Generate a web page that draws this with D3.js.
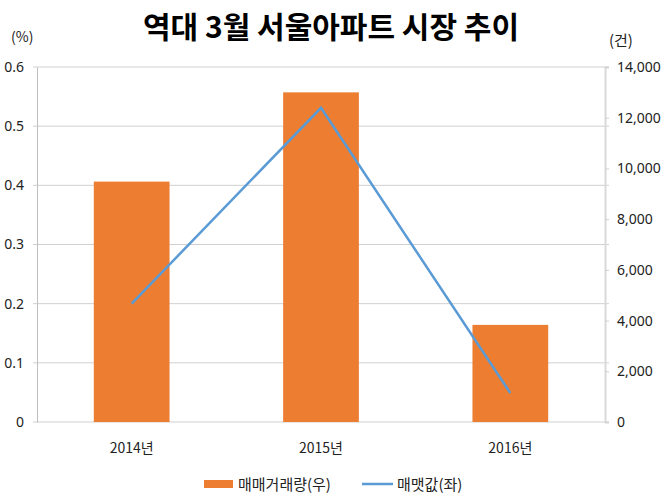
<!DOCTYPE html>
<html>
<head>
<meta charset="utf-8">
<script src="https://cdn.jsdelivr.net/npm/d3@7"></script>
<style>
  body { margin: 0; background: #fff; }
  text { font-family: "Noto Sans CJK KR", "Noto Sans", sans-serif; }
</style>
</head>
<body>
<div id="chart"></div>
<script>
var years = ["2014년", "2015년", "2016년"];
var volume = [9480, 13000, 3830];     // 매매거래량(우), 건
var priceChange = [0.2, 0.531, 0.049]; // 매맷값(좌), %
var leftTicks = [0, 0.1, 0.2, 0.3, 0.4, 0.5, 0.6];
var rightTicks = [0, 2000, 4000, 6000, 8000, 10000, 12000, 14000];

var svgWidth = 670;
var svgHeight = 504;

var margin = { top: 67, right: 65, bottom: 82, left: 37 };
var width = svgWidth - margin.left - margin.right;
var height = svgHeight - margin.top - margin.bottom;

var svg = d3.select("#chart")
  .append("svg")
  .attr("width", svgWidth)
  .attr("height", svgHeight);

var chartGroup = svg.append("g")
  .attr("transform", `translate(${margin.left}, ${margin.top})`);

var xScale = d3.scaleBand().domain(years).range([0, width]);
var yLeft = d3.scaleLinear().domain([0, 0.6]).range([height, 0]);
var yRight = d3.scaleLinear().domain([0, 14000]).range([height, 0]);

// gridlines
chartGroup.selectAll(".grid")
  .data(leftTicks)
  .enter()
  .append("line")
  .attr("x1", -4)
  .attr("x2", width + 4)
  .attr("y1", d => yLeft(d))
  .attr("y2", d => yLeft(d))
  .attr("stroke", "#d0d0d0")
  .attr("stroke-width", 1);

// bars
var barW = xScale.bandwidth() * 0.4;
chartGroup.selectAll("rect.bar")
  .data(volume)
  .enter()
  .append("rect")
  .attr("class", "bar")
  .attr("x", (d, i) => xScale(years[i]) + xScale.bandwidth() / 2 - barW / 2)
  .attr("y", d => yRight(d))
  .attr("width", barW)
  .attr("height", d => height - yRight(d))
  .attr("fill", "#ed7d31");

// axes
var leftAxis = d3.axisLeft(yLeft).tickValues(leftTicks).tickSize(0).tickPadding(13)
  .tickFormat(d => d === 0 ? "0" : d3.format(".1f")(d));
var rightAxis = d3.axisRight(yRight).tickValues(rightTicks).tickSize(4).tickPadding(8)
  .tickFormat(d3.format(","));

var gl = chartGroup.append("g").call(leftAxis);
gl.select(".domain").attr("stroke", "#bfbfbf");
var gr = chartGroup.append("g").attr("transform", `translate(${width}, 0)`).call(rightAxis);
gr.select(".domain").attr("stroke", "#d9d9d9").attr("stroke-width", 2);
gr.selectAll(".tick line").attr("stroke", "#d0d0d0");

[gl, gr].forEach(g => {
  g.selectAll("text").attr("font-size", "14px").attr("fill", "#222")
    .style("font-family", "'Noto Sans', sans-serif");
});

// x labels
chartGroup.selectAll(".xlab")
  .data(years)
  .enter()
  .append("text")
  .attr("x", d => xScale(d) + xScale.bandwidth() / 2)
  .attr("y", height + 31)
  .attr("text-anchor", "middle")
  .attr("font-size", "14px")
  .attr("fill", "#222")
  .text(d => d);

// line
var line = d3.line()
  .x((d, i) => xScale(years[i]) + xScale.bandwidth() / 2)
  .y(d => yLeft(d));

chartGroup.append("path")
  .datum(priceChange)
  .attr("d", line)
  .attr("fill", "none")
  .attr("stroke", "#5b9bd5")
  .attr("stroke-width", 2.5);

// title and units
svg.append("text")
  .attr("x", 331)
  .attr("y", 38)
  .attr("text-anchor", "middle")
  .attr("font-size", "30px")
  .attr("font-weight", "bold")
  .attr("fill", "#000")
  .text("역대 3월 서울아파트 시장 추이");

svg.append("text").attr("x", 11).attr("y", 42).attr("font-size", "14px").attr("fill", "#222").text("(%)");
svg.append("text").attr("x", 609).attr("y", 46).attr("font-size", "15px").attr("fill", "#222").text("(건)");

// legend
var legend = svg.append("g");
legend.append("rect").attr("x", 204).attr("y", 480).attr("width", 29).attr("height", 8).attr("fill", "#ed7d31");
legend.append("text").attr("x", 238).attr("y", 490).attr("font-size", "15px").attr("fill", "#222").text("매매거래량(우)");
legend.append("line").attr("x1", 362).attr("x2", 393).attr("y1", 484).attr("y2", 484)
  .attr("stroke", "#5b9bd5").attr("stroke-width", 2.5);
legend.append("text").attr("x", 397).attr("y", 490).attr("font-size", "15px").attr("fill", "#222").text("매맷값(좌)");
</script>
</body>
</html>
